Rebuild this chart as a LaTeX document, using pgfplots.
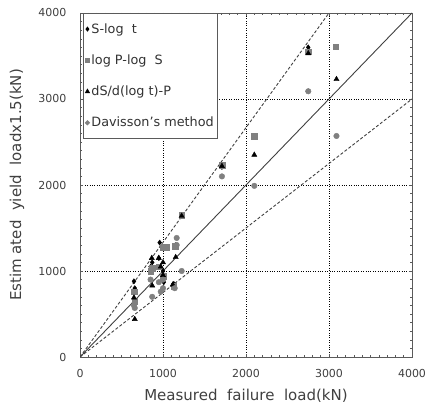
\documentclass[border=0pt]{standalone}
\usepackage{fontspec}
\setmainfont{DejaVu Sans}
\usepackage{pgfplots}
\pgfplotsset{compat=1.18}
\definecolor{mgray}{RGB}{128,128,128}
\definecolor{axgray}{RGB}{90,90,90}
\begin{document}
\begin{tikzpicture}
\begin{axis}[
  scale only axis,
  width=332pt, height=344pt,
  xmin=0, xmax=4000, ymin=0, ymax=4000,
  xtick={0,1000,2000,3000,4000},
  ytick={0,1000,2000,3000,4000},
  minor tick num=9,
  tick align=inside,
  major tick length=3pt, minor tick length=2pt,
  axis line style={axgray, line width=0.9pt},
  every tick/.style={axgray, line width=0.5pt},
  grid=major,
  major grid style={black, dotted, line width=0.7pt},
  /pgf/number format/assume math mode=true,
  /pgf/number format/1000 sep={},
  tick label style={font=\fontsize{11}{12}\selectfont, text=black!75},
  xticklabel style={yshift=-9pt},
  yticklabel style={xshift=-10pt},
  xlabel={Measured\ \ failure\ \ load(kN)},
  ylabel={Estim ated\ \ yield\ \ loadx1.5(kN)},
  label style={font=\fontsize{15}{17}\selectfont, text=black!75},
  xlabel style={at={(axis description cs:0.5,-0.112)}, anchor=center},
  ylabel style={at={(axis description cs:-0.19,0.5)}, anchor=center},
  legend cell align=left,
  legend style={font=\fontsize{12.8}{15}\selectfont, draw=axgray, line width=1pt,
    row sep=16pt, inner xsep=2pt, inner ysep=8pt, at={(0.009,1)}, anchor=north west,
    text=black!80},
  legend image post style={scale=0.7},
  legend image code/.code={\draw[#1] (0.1cm,0cm) -- plot coordinates {(0.1cm,0cm)};},
]
\coordinate (ll) at (rel axis cs:0,0);
\coordinate (ur) at (rel axis cs:1,1);
\addplot[only marks, mark=diamond*, mark size=2.6pt, black] coordinates {
 (650,880) (660,800) (850,1050) (870,1100) (950,1150) (960,1330)
 (1010,870) (1000,1000) (1150,1300) (1130,850) (1220,1650)
 (1710,2210) (2750,3600)
};
\addlegendentry{S-log\ \ t}
\addplot[only marks, mark=square*, mark size=2.8pt, mgray] coordinates {
 (650,760) (660,650) (850,1000) (870,1030) (950,1050) (1040,1280)
 (1000,1280) (1000,940) (1150,1290) (1130,820) (1225,1650)
 (1710,2230) (2100,2570) (2750,3550) (3080,3610)
};
\addlegendentry{log P-log\ \ S}
\addplot[only marks, mark=triangle*, mark size=3pt, black] coordinates {
 (650,690) (660,440) (865,1150) (870,830) (949,1150) (973,1050)
 (1000,950) (1000,1100) (1153,1160) (1117,840) (1225,1640)
 (1710,2220) (2100,2350) (2750,3530) (3090,3230)
};
\addlegendentry{dS/d(log\ t)-P}
\addplot[only marks, mark=*, mark size=2.8pt, mgray] coordinates {
 (650,600) (660,570) (850,900) (870,700) (950,870) (973,760)
 (1000,900) (1000,800) (1165,1384) (1165,1302) (1141,800) (1225,1000)
 (1710,2100) (2100,1990) (2750,3090) (3090,2570)
};
\addlegendentry{Davisson's method}
\addplot[black!75, line width=0.9pt, forget plot] coordinates {(0,0) (4000,4000)};
\addplot[black!75, densely dashed, line width=0.9pt, forget plot] coordinates {(0,0) (3000,4000)};
\addplot[black!75, densely dashed, line width=0.9pt, forget plot] coordinates {(0,0) (4000,3000)};
\end{axis}
\pgfresetboundingbox
\path ([xshift=-80pt,yshift=-53pt]ll) rectangle ([xshift=14pt,yshift=13pt]ur);
\end{tikzpicture}
\end{document}
